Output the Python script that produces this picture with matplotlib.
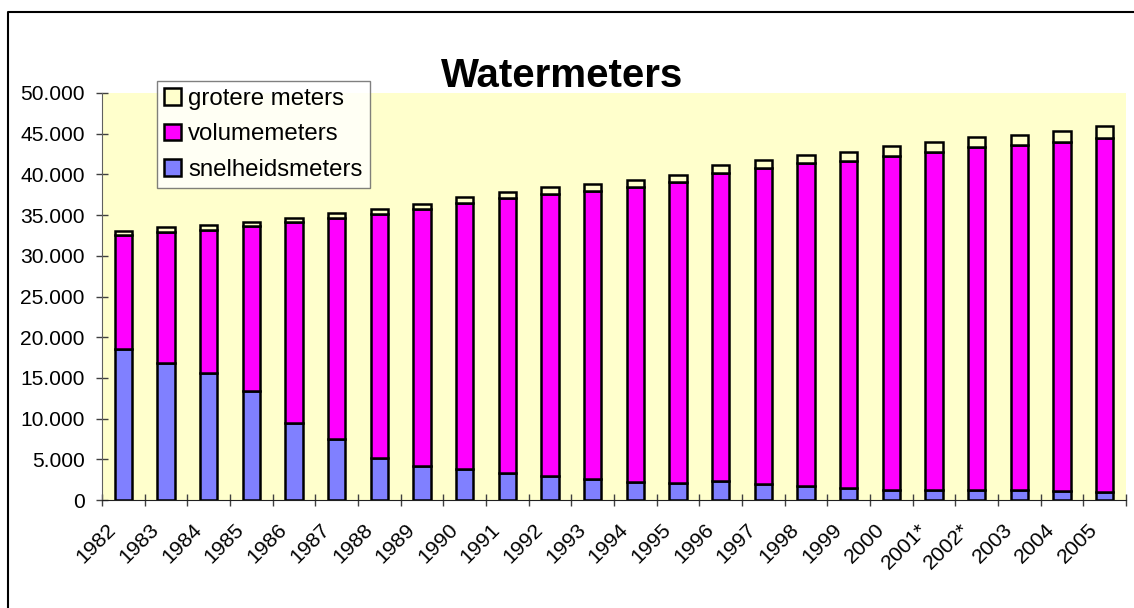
import matplotlib.pyplot as plt
import numpy as np
from matplotlib.ticker import FuncFormatter, MultipleLocator
from matplotlib.lines import Line2D
import matplotlib.transforms as mtransforms

plt.rcParams['font.family'] = ['Liberation Sans', 'DejaVu Sans']

# jaren en aantallen meters
jaren = ['1982', '1983', '1984', '1985', '1986', '1987', '1988', '1989', '1990',
         '1991', '1992', '1993', '1994', '1995', '1996', '1997', '1998', '1999',
         '2000', '2001*', '2002*', '2003', '2004', '2005']
snelheidsmeters = [18500, 16800, 15550, 13400, 9450, 7500, 5150, 4200, 3800,
                   3350, 2900, 2600, 2250, 2050, 2300, 2000, 1750, 1500,
                   1250, 1200, 1200, 1200, 1100, 1000]
volumemeters = [14100, 16150, 17650, 20250, 24700, 27150, 30000, 31550, 32650,
                33750, 34700, 35350, 36200, 37000, 37850, 38750, 39600, 40200,
                41050, 41600, 42200, 42400, 42900, 43450]
grotere_meters = [500, 550, 550, 550, 550, 550, 600, 600, 750,
                  700, 800, 850, 900, 900, 950, 1050, 1000, 1100,
                  1150, 1200, 1200, 1250, 1300, 1450]

W, H = 1134, 608
fig = plt.figure(figsize=(W / 100, H / 100), dpi=100)
ax = fig.add_axes([102 / W, 1 - 500 / H, 1024 / W, 407 / H])
ax.set_facecolor('#FFFFCC')

x = np.arange(len(jaren))
snel = np.array(snelheidsmeters)
vol = np.array(volumemeters)
gr = np.array(grotere_meters)

kw = dict(width=0.4, edgecolor='black', linewidth=1.8, zorder=3)
b1 = ax.bar(x, snel, color='#8080FF', label='snelheidsmeters', **kw)
b2 = ax.bar(x, vol, bottom=snel, color='#FF00FF', label='volumemeters', **kw)
b3 = ax.bar(x, gr, bottom=snel + vol, color='#FFFFCC', label='grotere meters', **kw)

ax.set_xlim(-0.5, len(jaren) - 0.5)
ax.set_ylim(0, 50000)
ax.yaxis.set_major_locator(MultipleLocator(5000))
ax.yaxis.set_major_formatter(FuncFormatter(lambda v, p: f"{int(v):,}".replace(',', '.')))

ax.set_xticks(np.arange(len(jaren) + 1) - 0.5, minor=False)
ax.set_xticklabels([])
ax.set_xticks(x, minor=True)
ax.set_xticklabels(jaren, minor=True, rotation=45, ha='right', va='center',
                   rotation_mode='anchor', fontsize=15.3)
ax.tick_params(axis='x', which='minor', length=0, pad=19)
ax.tick_params(axis='x', which='major', direction='inout', length=9, width=1, color='#404040')
ax.tick_params(axis='y', direction='inout', length=9, width=1, color='#404040',
               labelsize=15.1, pad=8)
offset = mtransforms.ScaledTranslation(-10 / 100, 0, fig.dpi_scale_trans)
for lab in ax.get_xticklabels(minor=True):
    lab.set_transform(lab.get_transform() + offset)

for s in ['top', 'right']:
    ax.spines[s].set_visible(False)
ax.spines['left'].set_color('#606060')
ax.spines['bottom'].set_color('#202020')

fig.text(562 / W, 1 - 87 / H, 'Watermeters', ha='center', va='baseline',
         fontsize=29, fontweight='bold')

leg = fig.legend(handles=[b3, b2, b1], labels=['grotere meters', 'volumemeters', 'snelheidsmeters'],
                 loc='upper left', bbox_to_anchor=(157 / W, 1 - 81 / H),
                 bbox_transform=fig.transFigure, fontsize=17.3, frameon=True,
                 fancybox=False, shadow=False, borderaxespad=0, handlelength=0.7,
                 handleheight=0.7, handletextpad=0.3, labelspacing=0.55,
                 borderpad=0.3)
leg.get_frame().set_edgecolor('#606060')
leg.get_frame().set_linewidth(1)

# rand van het grafiekgebied (alleen boven en links zichtbaar)
fig.add_artist(Line2D([7.5 / W, 7.5 / W, 1.0], [0.0, 1 - 11.5 / H, 1 - 11.5 / H],
                      transform=fig.transFigure, color='black', linewidth=1.5))

fig.savefig('out.png', dpi=100)
